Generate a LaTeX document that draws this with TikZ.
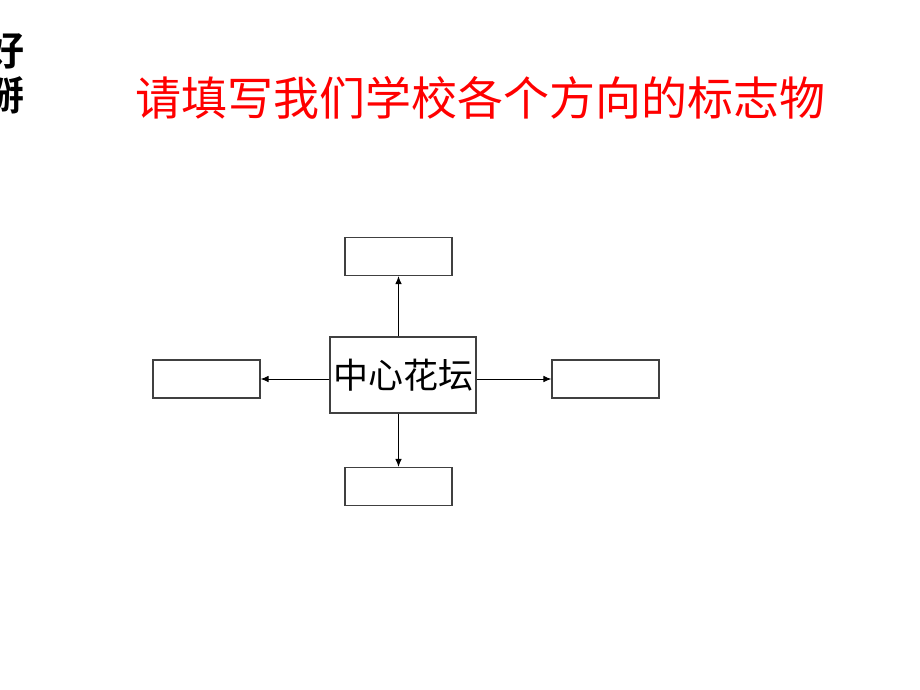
\documentclass[tikz,border=0pt]{standalone}
\usepackage{fontspec}
\newfontfamily\cjk{Noto Sans CJK SC}
\newfontfamily\cjkbold{Noto Sans CJK SC Bold}
\usetikzlibrary{arrows.meta}
\begin{document}
\begin{tikzpicture}[x=1pt,y=-1pt,
  blank/.style={draw=black!75,line width=1.1pt,minimum width=107pt,minimum height=38pt,inner sep=0pt},
  link/.style={draw=black,line width=0.9pt,-{Latex[length=8pt,width=6.5pt]}}]
\useasboundingbox (0,0) rectangle (920,690);
\clip (0,0) rectangle (920,690);
\node[text=red,font=\cjk\fontsize{46}{50}\selectfont,anchor=center] (title) at (480,98) {请填写我们学校各个方向的标志物};
\node[font=\cjkbold\fontsize{40}{42}\selectfont,anchor=center,inner sep=0pt] (cutA) at (5,50) {好};
\node[font=\cjkbold\fontsize{40}{42}\selectfont,anchor=center,inner sep=0pt] (cutB) at (5,95) {掰};
\node[draw=black!75,line width=1.1pt,minimum width=146pt,minimum height=76pt,inner sep=0pt,font=\cjk\fontsize{35}{38}\selectfont] (c) at (403,375) {中心花坛};
\node[blank] (n) at (398.5,256.5) {};
\node[blank] (s) at (398.5,486.5) {};
\node[blank] (w) at (206.5,379) {};
\node[blank] (e) at (605.5,379) {};
\draw[link] (c.north -| n.south) -- (n.south);
\draw[link] (c.south -| s.north) -- (s.north);
\draw[link] (c.west |- w.east) -- (w.east);
\draw[link] (c.east |- e.west) -- (e.west);
\end{tikzpicture}
\end{document}
